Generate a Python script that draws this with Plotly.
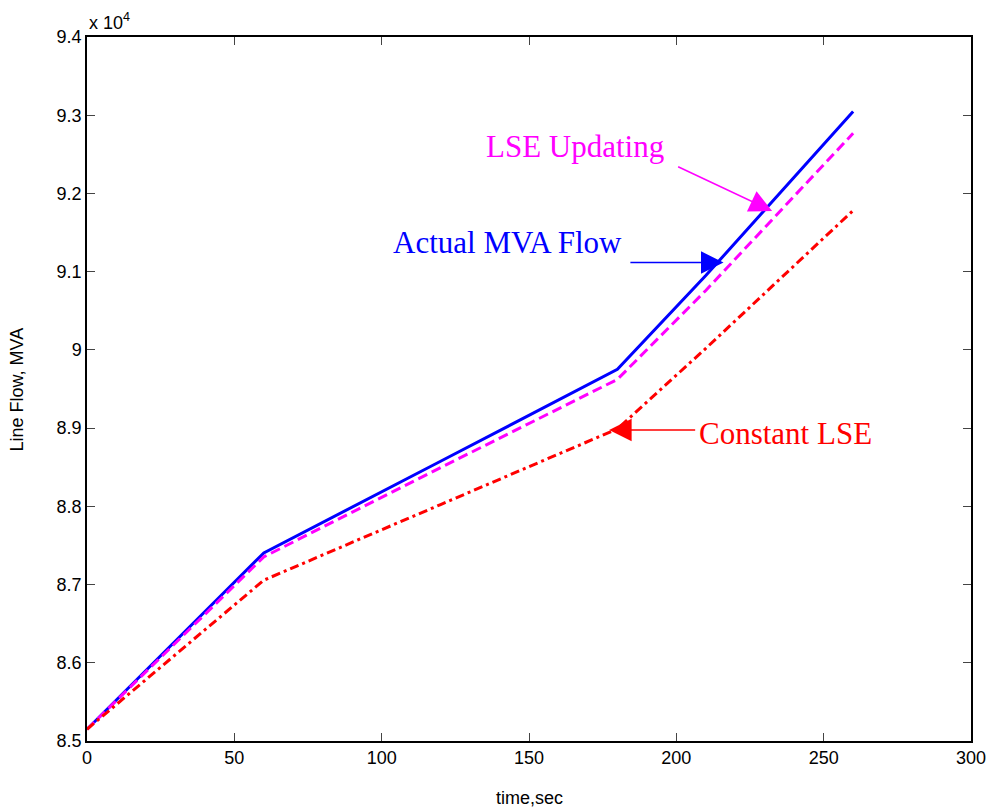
import plotly.graph_objects as go

# Time samples (s)
time_s = [0, 60, 120, 180, 210, 240, 260]

# Line flow (MVA)
actual_mva = [85150, 87405, 88576, 89751, 90950, 92216, 93046]
lse_updating = [85150, 87354, 88495, 89623, 90760, 91966, 92769]
constant_lse = [85150, 87056, 88023, 88990, 90019, 91083, 91782]

x_ticks = [0, 50, 100, 150, 200, 250, 300]
y_ticks = [85000, 86000, 87000, 88000, 89000, 90000, 91000, 92000, 93000, 94000]
y_tick_text = ["8.5", "8.6", "8.7", "8.8", "8.9", "9", "9.1", "9.2", "9.3", "9.4"]

fig = go.Figure()
fig.add_trace(go.Scatter(x=time_s, y=actual_mva, mode="lines",
                         line=dict(color="#0000FF", width=3), name="Actual MVA Flow"))
fig.add_trace(go.Scatter(x=time_s, y=lse_updating, mode="lines",
                         line=dict(color="#FF00FF", width=3, dash="10px,5px"), name="LSE Updating"))
fig.add_trace(go.Scatter(x=time_s, y=constant_lse, mode="lines",
                         line=dict(color="#FF0000", width=3, dash="9px,4px,3px,4px"), name="Constant LSE"))

serif = "Liberation Serif, Times New Roman, serif"
sans = "Liberation Sans, Arial, sans-serif"


def arrow(tip_x, tip_y, tail_x, tail_y, color):
    return dict(x=tip_x, y=tip_y, ax=tail_x, ay=tail_y, xref="x", yref="y",
                axref="x", ayref="y", text="", showarrow=True, arrowhead=2,
                arrowsize=3.0, arrowwidth=1.5, arrowcolor=color,
                standoff=0, startstandoff=0)


annotations = [
    # labels
    dict(x=165.7, y=92594, xref="x", yref="y", text="LSE Updating", showarrow=False,
         font=dict(family=serif, size=31, color="#FF00FF")),
    dict(x=142.7, y=91379, xref="x", yref="y", text="Actual MVA Flow", showarrow=False,
         font=dict(family=serif, size=31, color="#0000FF")),
    dict(x=236.9, y=88925, xref="x", yref="y", text="Constant LSE", showarrow=False,
         font=dict(family=serif, size=31, color="#FF0000")),
    # arrows
    arrow(232.5, 91776, 200.1, 92351, "#FF00FF"),
    arrow(216.0, 91117, 183.9, 91117, "#0000FF"),
    arrow(177.2, 88976, 206.9, 88976, "#FF0000"),
    # exponent marker
    dict(x=0, y=1, xref="paper", yref="paper", xanchor="left", yanchor="bottom",
         text="x 10<sup>4</sup>", showarrow=False, yshift=2,
         font=dict(family=sans, size=18, color="black")),
    # axis titles
    dict(x=-0.0787, y=0.5, xref="paper", yref="paper", xanchor="center", yanchor="middle",
         text="Line Flow, MVA", textangle=-90, showarrow=False,
         font=dict(family=sans, size=18, color="black")),
    dict(x=0.5, y=-0.081, xref="paper", yref="paper", xanchor="center", yanchor="middle",
         text="time,sec", showarrow=False,
         font=dict(family=sans, size=18, color="black")),
]

axis_common = dict(showgrid=False, zeroline=False, showline=True, linecolor="black",
                   linewidth=1.5, mirror="ticks", ticks="inside", ticklen=8,
                   tickcolor="#444444", tickwidth=1,
                   tickfont=dict(family=sans, size=18, color="black"))

fig.update_layout(
    width=998, height=810, autosize=False,
    margin=dict(l=87, r=22, t=37, b=69),
    paper_bgcolor="white", plot_bgcolor="white",
    showlegend=False,
    xaxis=dict(range=[0, 300], tickvals=x_ticks, **axis_common),
    yaxis=dict(range=[85000, 94000], tickvals=y_ticks, ticktext=y_tick_text, **axis_common),
    annotations=annotations,
)

fig.write_html("out.html")
